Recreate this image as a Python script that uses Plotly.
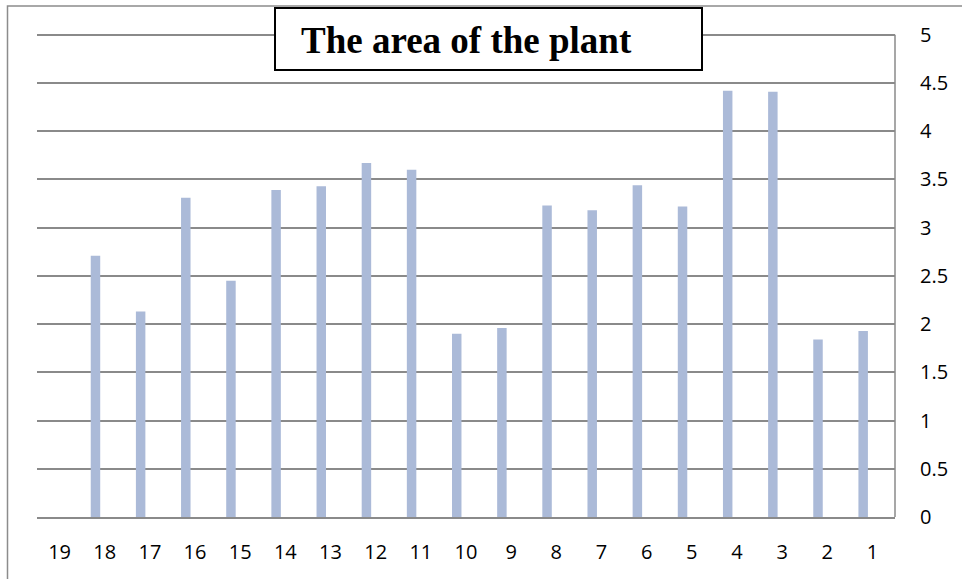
import plotly.graph_objects as go

categories = ["19", "18", "17", "16", "15", "14", "13", "12", "11", "10",
              "9", "8", "7", "6", "5", "4", "3", "2", "1"]
values = [None, 2.71, 2.13, 3.31, 2.45, 3.39, 3.43, 3.67, 3.60, 1.90,
          1.96, 3.23, 3.18, 3.44, 3.22, 4.42, 4.41, 1.84, 1.93]
title_text = "The area of the plant"
y_ticks = [0, 0.5, 1, 1.5, 2, 2.5, 3, 3.5, 4, 4.5, 5]
y_ticklabels = ["0", "0.5", "1", "1.5", "2", "2.5", "3", "3.5", "4", "4.5", "5"]

W, H = 962, 579
L, R, T, B = 37, 895, 30, 517
pw, ph = R - L, B - T

def px_x(p):
    return (p - L) / pw

def px_y(p):
    return (B - p) / ph

fig = go.Figure()
fig.add_trace(go.Bar(
    x=categories, y=values,
    marker=dict(color="#abbad8", line=dict(width=0)),
    width=0.21, offset=-0.31,
    hoverinfo="x+y",
))

grid_color = "#8a8a8a"
fig.update_layout(
    width=W, height=H,
    margin=dict(l=L, r=W - R, t=T, b=H - B),
    paper_bgcolor="white", plot_bgcolor="white",
    showlegend=False,
    xaxis=dict(
        type="category", categoryorder="array", categoryarray=categories,
        showgrid=False, showline=True, linecolor=grid_color, linewidth=1.5,
        ticks="", tickfont=dict(family="Open Sans", size=20, color="#000"),
        ticklabelstandoff=16, zeroline=False,
    ),
    yaxis=dict(
        side="right", range=[0, 5.05], tickvals=y_ticks, ticktext=y_ticklabels,
        showgrid=True, gridcolor=grid_color, gridwidth=1.5,
        showline=False, zeroline=False,
        ticks="", tickfont=dict(family="Open Sans", size=20, color="#000"),
        ticklabelstandoff=24,
    ),
    shapes=[
        # right axis line (from 0 to 5 only)
        dict(type="line", xref="paper", yref="y",
             x0=1, x1=1, y0=0, y1=5,
             line=dict(color=grid_color, width=1.5), layer="above"),
        dict(type="rect", xref="paper", yref="paper",
             x0=px_x(7.5), x1=px_x(1200), y0=px_y(800), y1=px_y(6),
             line=dict(color="#8c8c8c", width=1.5), fillcolor="rgba(0,0,0,0)",
             layer="above"),
        dict(type="rect", xref="paper", yref="paper",
             x0=px_x(275), x1=px_x(702), y0=px_y(70), y1=px_y(8),
             line=dict(color="#000", width=2), fillcolor="white",
             layer="above"),
    ],
    annotations=[
        dict(text="<b>" + title_text + "</b>", xref="paper", yref="paper",
             x=px_x(299), y=px_y(41), xanchor="left", yanchor="middle",
             showarrow=False,
             font=dict(family="Liberation Serif", size=37, color="#000")),
    ],
)

fig.write_html("out.html", config={"displayModeBar": False},
               post_script="document.body.style.margin='0';document.body.style.overflow='hidden';")
